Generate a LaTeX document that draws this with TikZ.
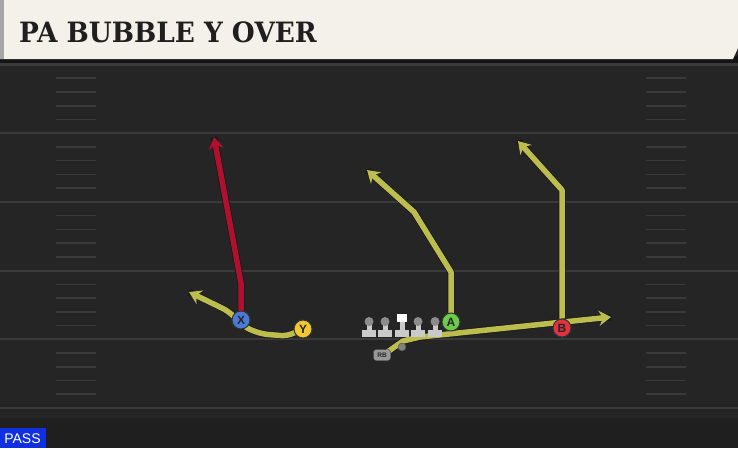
\documentclass[tikz,border=0pt]{standalone}
\usepackage{fontspec}
\setmainfont{Liberation Sans}
\newfontfamily\titlefont{DejaVu Serif}
\usetikzlibrary{arrows.meta}
\definecolor{fieldbg}{HTML}{252525}
\definecolor{yardline}{HTML}{3A3A3A}
\definecolor{cream}{HTML}{F4F1EA}
\definecolor{routeY}{HTML}{BDBD4E}
\definecolor{routeR}{HTML}{B0102E}
\definecolor{pblue}{HTML}{4A7BD6}
\definecolor{pyellow}{HTML}{F2C832}
\definecolor{pgreen}{HTML}{6CCB4A}
\definecolor{pred}{HTML}{E2323E}
\definecolor{passblue}{HTML}{1030E0}
\definecolor{lgray}{HTML}{CACACA}
\tikzset{
  route/.style={line width=5.5pt, line join=round, -{Stealth[length=12pt,width=15pt,inset=4pt]},
    preaction={draw=black!90, line width=7pt, -}},
  player/.style={circle, draw=black!80, line width=1pt, minimum size=18pt, inner sep=0pt, font=\bfseries\fontsize{12}{12}\selectfont, text=black!85},
  rbbox/.style={draw=black!80, fill=black!40, rounded corners=2.5pt, inner sep=1pt, font=\bfseries\fontsize{6.5}{6.5}\selectfont, text=black!85, minimum width=17pt, minimum height=11pt},
  hashmark/.style={draw=yardline, line width=1.6pt},
  yline/.style={draw=yardline, line width=2.2pt},
}
\begin{document}
\begin{tikzpicture}[x=1pt,y=-1pt]
\useasboundingbox (0,0) rectangle (738,448);
% field
\fill[fieldbg] (0,0) rectangle (738,448);
\fill[black!88] (0,418) rectangle (738,448);
% yard lines
\foreach \yy in {64.5,133.2,201.9,270.6,339.3,408} {
  \draw[yline] (0,\yy) -- (738,\yy);
}
% hash marks
\foreach \k in {1,2,3,4,6,7,8,9,11,12,13,14,16,17,18,19,21,22,23,24} {
  \pgfmathsetmacro\hy{64.5+13.74*\k}
  \draw[hashmark] (56,\hy) -- (96,\hy);
  \draw[hashmark] (646,\hy) -- (686,\hy);
}
% header
\fill[black!92] (0,56) rectangle (738,63);
\fill[cream] (0,0) -- (738,0) -- (738,48) -- (733,59) -- (0,59) -- cycle;
\fill[black!35] (0,0) rectangle (4,59);
\node[anchor=west, inner sep=0pt, font=\titlefont\bfseries\fontsize{28}{28}\selectfont, text=black!88] (title) at (19,32.5) {\scalebox{0.94}[1]{PA BUBBLE Y OVER}};
% players
\node[player, fill=pblue] (X) at (241,320) {X};
\node[player, fill=pyellow] (Y) at (303,329) {Y};
\node[player, fill=pgreen] (A) at (451,322) {A};
\node[player, fill=pred] (B) at (562,328) {B};
\node[rbbox] (RB) at (382,355) {RB};
% coordinates
\coordinate (x1) at (241,283);
\coordinate (x2) at (214,137);
\coordinate (y1) at (287,336);
\coordinate (y2) at (262,334);
\coordinate (y3) at (246,328);
\coordinate (y4) at (228,311);
\coordinate (y5) at (189,292);
\coordinate (a1) at (451,272);
\coordinate (a2) at (414,212);
\coordinate (a3) at (367,170);
\coordinate (b1) at (562,190);
\coordinate (b2) at (518,141);
\coordinate (r0) at (386,353);
\coordinate (r1) at (403,341);
\coordinate (r2) at (420,337);
\coordinate (r3) at (611,317);
% routes
\draw[route, routeY, rounded corners=6pt] (Y.center) -- (y1) -- (y2) -- (y3) -- (y4) -- (y5);
\draw[route, routeR] (X.center) -- (x1) -- (x2);
\draw[route, routeY] (A.center) -- (a1) -- (a2) -- (a3);
\draw[route, routeY] (B.center) -- (b1) -- (b2);
\draw[route, routeY] (r0) -- (r1) -- (r2) -- (r3);
% QB dot
\node[circle, fill=black!50, draw=black!70, minimum size=8pt, inner sep=0pt] (QB) at (402,347) {};
% redraw players on top
\node[player, fill=pblue] at (X) {X};
\node[player, fill=pyellow] at (Y) {Y};
\node[player, fill=pgreen] at (A) {A};
\node[player, fill=pred] at (B) {B};
\node[rbbox] at (RB) {RB};
% linemen
\foreach \lx in {369,385,418,435} {
  \fill[lgray] (\lx-7,330) rectangle (\lx+7,337);
  \fill[lgray] (\lx-2.5,323) rectangle (\lx+2.5,331);
  \fill[black!45] (\lx,321.5) circle (4.5);
}
\fill[lgray] (402-7,330) rectangle (402+7,337);
\fill[lgray] (402-2.5,321) rectangle (402+2.5,331);
\fill[white] (397,313.5) rectangle (407,322);
% pass label
\fill[passblue] (0,428) rectangle (46,448);
\node[text=white, font=\fontsize{14}{14}\selectfont, inner sep=0pt] (pass) at (22.5,438.5) {PASS};
\end{tikzpicture}
\end{document}
